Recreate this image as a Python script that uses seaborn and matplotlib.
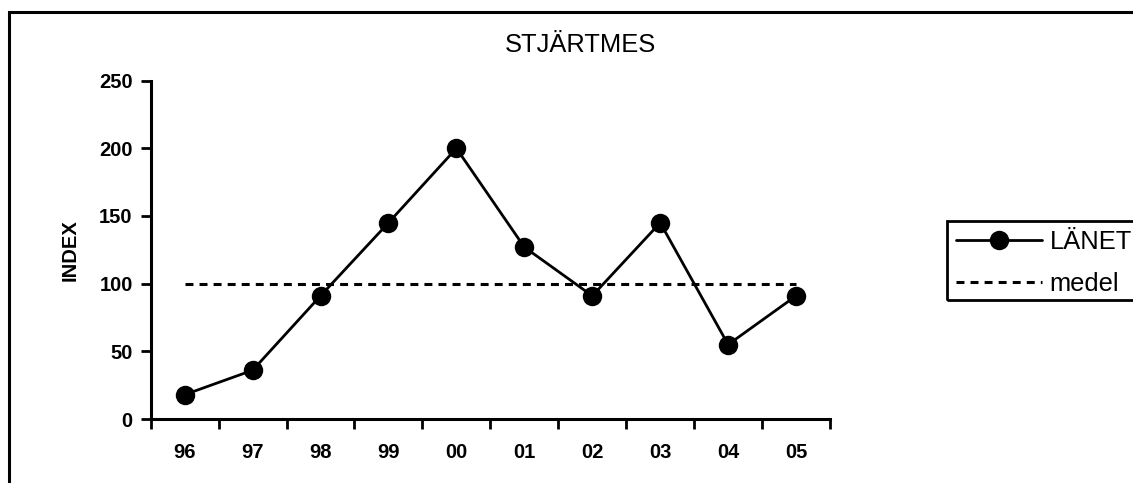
import matplotlib
matplotlib.use("Agg")
import matplotlib.pyplot as plt
from matplotlib.patches import Rectangle
from matplotlib.ticker import FixedLocator, NullFormatter
import seaborn as sns
import pandas as pd

# Bird index per year (county series) and the long-term mean reference
years = ["96", "97", "98", "99", "00", "01", "02", "03", "04", "05"]
lanet = [18, 36, 91, 145, 200, 127, 91, 145, 55, 91]
medel = [100, 100, 100, 100, 100, 100, 100, 100, 100, 100]
y_ticks = [0, 50, 100, 150, 200, 250]

sns.set_theme(style="white")
plt.rcParams["font.family"] = ["Liberation Sans", "DejaVu Sans"]
plt.rcParams.update({"text.color": "black", "axes.labelcolor": "black",
                     "xtick.color": "black", "ytick.color": "black"})

df = pd.DataFrame({"year": years, "LÄNET": lanet, "medel": medel})

fig = plt.figure(figsize=(11.33, 4.83), dpi=100)
ax = fig.add_axes([0.133, 0.1325, 0.5996, 0.7005])

sns.lineplot(data=df, x="year", y="medel", sort=False, ax=ax, color="black",
             linewidth=2.2, dashes=False, label="medel")
ax.lines[-1].set_dashes((2.6, 2.0))
sns.lineplot(data=df, x="year", y="LÄNET", sort=False, ax=ax, color="black",
             linewidth=2.0, marker="o", markersize=14, markeredgewidth=0,
             label="LÄNET")

ax.set_xlim(-0.5, len(years) - 0.5)
ax.set_ylim(0, 250)
ax.set_yticks(y_ticks)
ax.set_yticklabels([str(v) for v in y_ticks], fontsize=14.5, fontweight="bold")

# category labels centred, tick marks on the boundaries between categories
ax.set_xticks(range(len(years)))
ax.set_xticklabels(years, fontsize=14.5, fontweight="bold")
ax.xaxis.set_minor_locator(FixedLocator([i - 0.5 for i in range(len(years) + 1)]))
ax.xaxis.set_minor_formatter(NullFormatter())
ax.tick_params(axis="x", which="major", length=0, pad=17)
ax.tick_params(axis="x", which="minor", length=7, width=2, color="black",
               direction="out", bottom=True)
ax.tick_params(axis="y", which="major", length=7, width=2, color="black",
               direction="out", left=True, pad=6)

for side in ("top", "right"):
    ax.spines[side].set_visible(False)
for side in ("left", "bottom"):
    ax.spines[side].set_color("black")
    ax.spines[side].set_linewidth(2.2)

ax.set_xlabel("")
ax.set_ylabel("INDEX", fontsize=14.5, fontweight="bold", labelpad=14)

ax.get_legend().remove()
handles, labels = ax.get_legend_handles_labels()
order = [labels.index("LÄNET"), labels.index("medel")]
leg = fig.legend([handles[i] for i in order], [labels[i] for i in order],
                 loc="upper left", bbox_to_anchor=(0.836, 0.5424),
                 fontsize=18.4, frameon=False, handlelength=3.35,
                 handletextpad=0.3, borderpad=0.35, labelspacing=0.72,
                 borderaxespad=0)

# legend box, running off the right edge of the chart area
fig.patches.append(Rectangle((947 / 1133, 1 - 300 / 483), 0.3, 79 / 483,
                             transform=fig.transFigure, fill=False,
                             edgecolor="black", linewidth=2, clip_on=False))

fig.text(0.512, 1 - 52 / 483, "STJÄRTMES", ha="center", va="baseline",
         fontsize=18.4, color="black")

# chart-area frame, running off the right and bottom edges
fig.patches.append(Rectangle((9 / 1133, -0.2), 1.2, 1.2 - 12 / 483,
                             transform=fig.transFigure, fill=False,
                             edgecolor="black", linewidth=2.2, clip_on=False))

fig.savefig("out.png", dpi=100)
